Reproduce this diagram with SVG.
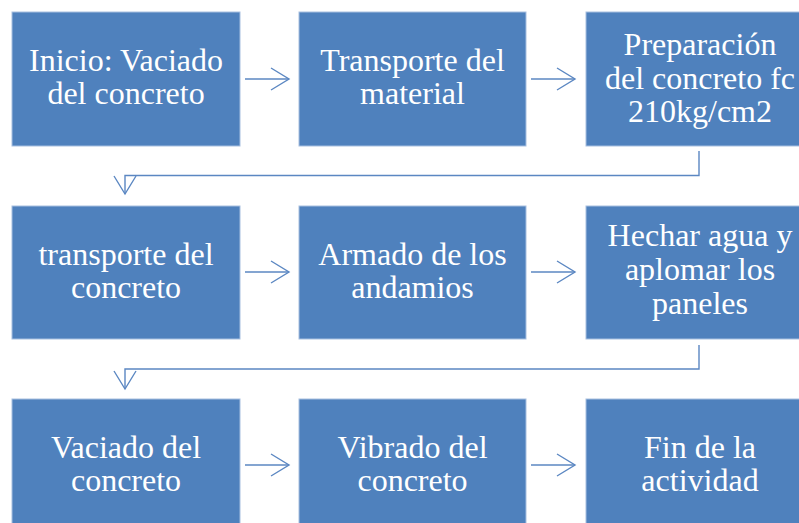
<svg xmlns="http://www.w3.org/2000/svg" width="799" height="523" viewBox="0 0 799 523">
<defs>
<style>
.box{fill:#4F81BD;stroke:#a7bfe0;stroke-width:1}
.lbl{font-family:'Liberation Serif','Times New Roman',serif;font-size:32px;fill:#ffffff;text-anchor:middle}
.con{fill:none;stroke:#5b87c2;stroke-width:1.4}
</style>
<marker id="arr" markerUnits="userSpaceOnUse" markerWidth="22" markerHeight="24" refX="18" refY="11" orient="auto" viewBox="-2 -1 22 24">
<path d="M0,0 L18,11 L0,22" fill="none" stroke="#5b87c2" stroke-width="1.4"/>
</marker>
</defs>
<rect width="799" height="523" fill="#ffffff"/>
<g id="connectors">
<path class="con" d="M245,79 H289" marker-end="url(#arr)"/>
<path class="con" d="M531,79 H575" marker-end="url(#arr)"/>
<path class="con" d="M699,151 V175.5 H125 V194" marker-end="url(#arr)"/>
<path class="con" d="M245,272 H289" marker-end="url(#arr)"/>
<path class="con" d="M531,272 H575" marker-end="url(#arr)"/>
<path class="con" d="M699,345 V369 H125 V389" marker-end="url(#arr)"/>
<path class="con" d="M245,465 H289" marker-end="url(#arr)"/>
<path class="con" d="M531,465 H575" marker-end="url(#arr)"/>
</g>
<g id="n1"><rect class="box" x="12" y="12" width="228" height="134"/>
<text class="lbl" x="126" y="71">Inicio: Vaciado</text><text class="lbl" x="126" y="104">del concreto</text></g>
<g id="n2"><rect class="box" x="299" y="12" width="227" height="134"/>
<text class="lbl" x="412.5" y="71">Transporte del</text><text class="lbl" x="412.5" y="104">material</text></g>
<g id="n3"><rect class="box" x="586" y="12" width="228" height="134"/>
<text class="lbl" x="700" y="55">Preparación</text><text class="lbl" x="700" y="88.5">del concreto fc</text><text class="lbl" x="700" y="122">210kg/cm2</text></g>
<g id="n4"><rect class="box" x="12" y="206" width="228" height="133"/>
<text class="lbl" x="126" y="264.5">transporte del</text><text class="lbl" x="126" y="297.5">concreto</text></g>
<g id="n5"><rect class="box" x="299" y="206" width="227" height="133"/>
<text class="lbl" x="412.5" y="264.5">Armado de los</text><text class="lbl" x="412.5" y="297.5">andamios</text></g>
<g id="n6"><rect class="box" x="586" y="206" width="228" height="133"/>
<text class="lbl" x="700" y="246">Hechar agua y</text><text class="lbl" x="700" y="280">aplomar los</text><text class="lbl" x="700" y="313.5">paneles</text></g>
<g id="n7"><rect class="box" x="12" y="399" width="228" height="134"/>
<text class="lbl" x="126" y="457.5">Vaciado del</text><text class="lbl" x="126" y="491">concreto</text></g>
<g id="n8"><rect class="box" x="299" y="399" width="227" height="134"/>
<text class="lbl" x="412.5" y="457.5">Vibrado del</text><text class="lbl" x="412.5" y="491">concreto</text></g>
<g id="n9"><rect class="box" x="586" y="399" width="228" height="134"/>
<text class="lbl" x="700" y="457.5">Fin de la</text><text class="lbl" x="700" y="491">actividad</text></g>
</svg>
